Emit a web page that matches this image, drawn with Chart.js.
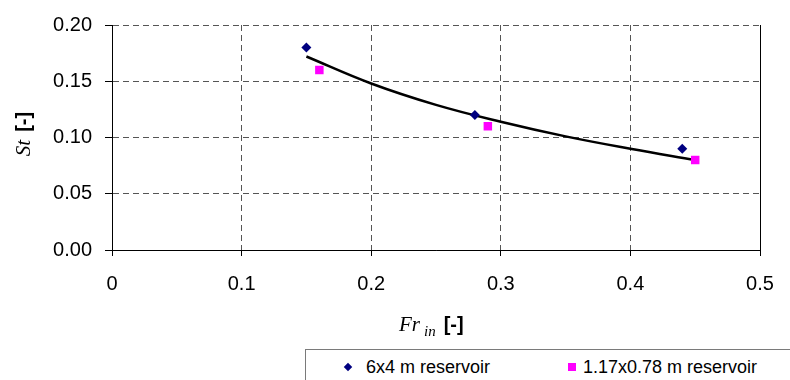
<!DOCTYPE html>
<html>
<head>
<meta charset="utf-8">
<script src="https://cdn.jsdelivr.net/npm/chart.js@4"></script>
<style>
  html, body { margin: 0; padding: 0; background: #fff; }
  #caja { position: relative; width: 790px; height: 380px; overflow: hidden; }
  #titulo_y {
    position: absolute; left: -27px; top: 122px; width: 100px; height: 24px;
    text-align: center; white-space: nowrap; transform: rotate(-90deg);
    line-height: 24px;
  }
  #titulo_x {
    position: absolute; left: 399px; top: 312px; white-space: nowrap; line-height: 24px;
  }
  .cursiva { font-family: "Liberation Serif", "Times New Roman", serif; font-style: italic; font-size: 21px; }
  .sub { font-family: "Liberation Serif", "Times New Roman", serif; font-style: italic; font-size: 15px; position: relative; top: 5px; }
  .neg { font-family: "Liberation Sans", Arial, sans-serif; font-weight: bold; font-size: 20px; }
  #leyenda {
    position: absolute; left: 305px; top: 349px; width: 520px; height: 50px;
    border: 1px solid #7a7a7a; background: #fff;
    font-family: "Liberation Sans", Arial, sans-serif; font-size: 18px; color: #000;
  }
  .item { position: absolute; top: 6px; line-height: 22px; white-space: nowrap; }
  .rombo { position: absolute; width: 6px; height: 6px; background: #000080; transform: rotate(45deg); }
  .cuadro { position: absolute; width: 8px; height: 8px; background: #ff00ff; }
</style>
</head>
<body>
<div id="caja">
  <canvas id="grafica_st"></canvas>
  <div id="titulo_y"><span class="cursiva">St</span>&nbsp;&nbsp;<span class="neg">[-]</span></div>
  <div id="titulo_x"><span class="cursiva">Fr</span> <span class="sub">in</span>&nbsp;&nbsp;<span class="neg">[-]</span></div>
  <div id="leyenda">
    <div class="rombo" style="left: 39px; top: 14px;"></div>
    <div class="item" style="left: 60px;">6x4 m reservoir</div>
    <div class="cuadro" style="left: 262px; top: 13px;"></div>
    <div class="item" style="left: 277px;">1.17x0.78 m reservoir</div>
  </div>
</div>
<script>
/*-----Datos-----*/

const fr_grande = [0.15, 0.28, 0.44];
const st_grande = [0.18, 0.12, 0.09];

const fr_pequeno = [0.16, 0.29, 0.45];
const st_pequeno = [0.16, 0.11, 0.08];

// línea de tendencia
const fr_tendencia = [0.15, 0.20, 0.25, 0.30, 0.35, 0.40, 0.45];
const st_tendencia = [0.172, 0.148, 0.129, 0.114, 0.101, 0.090, 0.080];

const ticks_x = [0, 0.1, 0.2, 0.3, 0.4, 0.5];
const ticks_y = [0, 0.05, 0.10, 0.15, 0.20];

function puntos(xs, ys) {
  return xs.map((x, i) => ({x: x, y: ys[i]}));
}

/*-----Borde derecho del área-----*/

const borde_derecho = {
  id: 'borde_derecho',
  afterDraw(chart) {
    const {ctx, chartArea} = chart;
    ctx.save();
    ctx.strokeStyle = '#000';
    ctx.lineWidth = 1;
    ctx.beginPath();
    ctx.moveTo(Math.round(chartArea.right) + 0.5, chartArea.top);
    ctx.lineTo(Math.round(chartArea.right) + 0.5, chartArea.bottom);
    ctx.stroke();
    ctx.restore();
  }
};

/*-----Gráfica-----*/

const grafica_st = document.getElementById('grafica_st');
const fuente_ticks = {family: '"Liberation Sans", Arial, sans-serif', size: 20};

new Chart(grafica_st, {
  type: 'scatter',
  data: {
    datasets: [{
      label: '6x4 m reservoir',
      data: puntos(fr_grande, st_grande),
      pointStyle: 'rectRot',
      pointRadius: 5,
      backgroundColor: '#000080',
      borderWidth: 0,
      order: 1
    },
    {
      label: '1.17x0.78 m reservoir',
      data: puntos(fr_pequeno, st_pequeno),
      pointStyle: 'rect',
      pointRadius: 6,
      backgroundColor: '#ff00ff',
      borderWidth: 0,
      order: 1
    },
    {
      label: 'tendencia',
      data: puntos(fr_tendencia, st_tendencia),
      showLine: true,
      pointRadius: 0,
      borderColor: '#000',
      borderWidth: 2.5,
      tension: 0.4,
      order: 2
    }]
  },
  options: {
    responsive: true,
    maintainAspectRatio: false,
    animation: false,
    layout: {
      padding: {left: 0, top: 18, right: 30, bottom: 0}
    },
    scales: {
      x: {
        type: 'linear',
        min: 0,
        max: 0.5,
        afterFit: (s) => { s.height = 130; },
        afterBuildTicks: (s) => { s.ticks = ticks_x.map(v => ({value: v})); },
        ticks: {
          color: '#000',
          font: fuente_ticks,
          padding: 16,
          maxRotation: 0,
          callback: (v) => v === 0 ? '0' : v.toFixed(1)
        },
        grid: {
          color: '#555',
          tickColor: '#000',
          tickLength: 6,
          tickBorderDash: []
        },
        border: {color: '#000', width: 1, dash: [6, 4]}
      },
      y: {
        min: 0,
        max: 0.2,
        afterFit: (s) => { s.width = 112; },
        afterBuildTicks: (s) => { s.ticks = ticks_y.map(v => ({value: v})); },
        ticks: {
          color: '#000',
          font: fuente_ticks,
          padding: 13,
          callback: (v) => v.toFixed(2)
        },
        grid: {
          color: '#555',
          tickColor: '#000',
          tickLength: 7,
          tickBorderDash: []
        },
        border: {color: '#000', width: 1, dash: [6, 4]}
      }
    },
    plugins: {
      legend: {display: false},
      tooltip: {enabled: false}
    }
  },
  plugins: [borde_derecho]
});
</script>
</body>
</html>
